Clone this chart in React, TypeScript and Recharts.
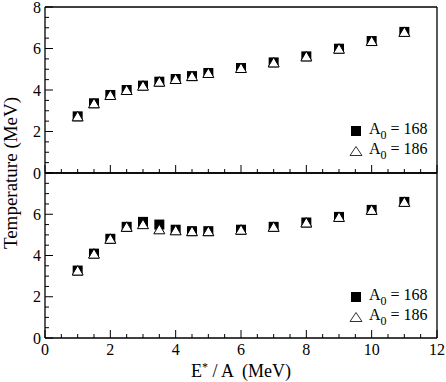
import { ScatterChart, Scatter, XAxis, YAxis } from "recharts";

const energy = [1, 1.5, 2, 2.5, 3, 3.5, 4, 4.5, 5, 6, 7, 8, 9, 10, 11];
const topA168 = [2.73, 3.36, 3.76, 4.0, 4.21, 4.4, 4.53, 4.67, 4.82, 5.06, 5.33, 5.62, 5.99, 6.36, 6.8];
const topA186 = [2.73, 3.36, 3.76, 4.0, 4.21, 4.4, 4.53, 4.67, 4.82, 5.06, 5.33, 5.62, 5.99, 6.36, 6.8];
const botA168 = [3.27, 4.09, 4.81, 5.39, 5.63, 5.5, 5.25, 5.18, 5.18, 5.25, 5.39, 5.6, 5.87, 6.21, 6.6];
const botA186 = [3.27, 4.09, 4.81, 5.39, 5.52, 5.27, 5.22, 5.18, 5.18, 5.25, 5.39, 5.6, 5.87, 6.21, 6.6];

const xTicks = [0, 0.5, 1, 1.5, 2, 2.5, 3, 3.5, 4, 4.5, 5, 5.5, 6, 6.5, 7, 7.5, 8, 8.5, 9, 9.5, 10, 10.5, 11, 11.5, 12];
const xLabels = [0, 2, 4, 6, 8, 10, 12];
const yTicks = [0, 0.5, 1, 1.5, 2, 2.5, 3, 3.5, 4, 4.5, 5, 5.5, 6, 6.5, 7, 7.5, 8];
const yLabelsTop = [0, 2, 4, 6, 8];
const yLabelsBottom = [0, 2, 4, 6];

const W = 446;
const H = 382;
const PLOT_LEFT = 45;
const PLOT_RIGHT = 9;
const TOP_Y = 7;
const MID_Y = 173;
const BOT_Y = 338;
const FONT = '"Liberation Serif", "Times New Roman", serif';

const toPoints = (xs: number[], ys: number[]) => xs.map((x, i) => ({ x, y: ys[i] }));

const Square = (props: any) => {
  const { cx, cy } = props;
  return <rect x={cx - 5} y={cy - 5} width={10} height={10} fill="#000" />;
};

const Triangle = (props: any) => {
  const { cx, cy } = props;
  return (
    <polygon
      points={`${cx},${cy - 5} ${cx + 5.5},${cy + 4.5} ${cx - 5.5},${cy + 4.5}`}
      fill="#fff"
      stroke="#000"
      strokeWidth={1}
    />
  );
};

type Side = "bottom" | "top" | "left" | "right";

function makeTick(side: Side, labels: number[]) {
  return (props: any) => {
    const { x, y, payload } = props;
    const v = payload.value as number;
    const major = Number.isInteger(v) && v % 2 === 0;
    const len = major ? 8 : 4;
    let x2 = x;
    let y2 = y;
    if (side === "bottom") y2 = y - len;
    if (side === "top") y2 = y + len;
    if (side === "left") x2 = x + len;
    if (side === "right") x2 = x - len;
    const show = labels.includes(v);
    return (
      <g>
        <line x1={x} y1={y} x2={x2} y2={y2} stroke="#000" strokeWidth={1} />
        {show && side === "bottom" && (
          <text x={x} y={y + 17} textAnchor="middle" fontFamily={FONT} fontSize={16} fill="#000">
            {v}
          </text>
        )}
        {show && side === "left" && (
          <text x={x - 4} y={y + 5.5} textAnchor="end" fontFamily={FONT} fontSize={16} fill="#000">
            {v}
          </text>
        )}
      </g>
    );
  };
}

const axisLine = { stroke: "#000", strokeWidth: 1.3 };

function Panel({
  a168,
  a186,
  top,
  bottom,
  yLabels,
  xLabelsShown,
}: {
  a168: number[];
  a186: number[];
  top: number;
  bottom: number;
  yLabels: number[];
  xLabelsShown: number[];
}) {
  // axes get a 1px thickness so Recharts draws them
  return (
    <div style={{ position: "absolute", left: 0, top: 0 }}>
      <ScatterChart
        width={W}
        height={H}
        margin={{ top: top - 1, bottom: H - bottom - 1, left: PLOT_LEFT - 1, right: PLOT_RIGHT - 1 }}
      >
        <XAxis
          xAxisId="b"
          dataKey="x"
          type="number"
          domain={[0, 12]}
          ticks={xTicks}
          interval={0}
          height={1}
          tickSize={0}
          tickMargin={0}
          tickLine={false}
          axisLine={axisLine}
          tick={makeTick("bottom", xLabelsShown)}
        />
        <XAxis
          xAxisId="t"
          orientation="top"
          dataKey="x"
          type="number"
          domain={[0, 12]}
          ticks={xTicks}
          interval={0}
          height={1}
          tickSize={0}
          tickMargin={0}
          tickLine={false}
          axisLine={axisLine}
          tick={makeTick("top", [])}
        />
        <YAxis
          yAxisId="l"
          dataKey="y"
          type="number"
          domain={[0, 8]}
          ticks={yTicks}
          interval={0}
          width={1}
          tickSize={0}
          tickMargin={0}
          tickLine={false}
          axisLine={axisLine}
          tick={makeTick("left", yLabels)}
        />
        <YAxis
          yAxisId="r"
          orientation="right"
          dataKey="y"
          type="number"
          domain={[0, 8]}
          ticks={yTicks}
          interval={0}
          width={1}
          tickSize={0}
          tickMargin={0}
          tickLine={false}
          axisLine={axisLine}
          tick={makeTick("right", [])}
        />
        <Scatter
          xAxisId="b"
          yAxisId="l"
          data={toPoints(energy, a168)}
          shape={Square}
          isAnimationActive={false}
        />
        <Scatter
          xAxisId="b"
          yAxisId="l"
          data={toPoints(energy, a186)}
          shape={Triangle}
          isAnimationActive={false}
        />
      </ScatterChart>
    </div>
  );
}

function LegendBox({ top }: { top: number }) {
  const row = (label: string, symbol: React.ReactNode, y: number) => (
    <div style={{ position: "absolute", left: 349, top: y - 10, height: 20, display: "flex", alignItems: "center" }}>
      <svg width={14} height={14} style={{ marginRight: 6 }}>
        {symbol}
      </svg>
      <span style={{ fontFamily: FONT, fontSize: 16, whiteSpace: "pre" }}>
        A<sub style={{ fontSize: 12, verticalAlign: -5 }}>0</sub> = {label}
      </span>
    </div>
  );
  return (
    <>
      {row("168", <rect x={2} y={2} width={10} height={10} fill="#000" />, top)}
      {row("186", <polygon points="7,2.5 13,11.5 1,11.5" fill="#fff" stroke="#333" strokeWidth={1} />, top + 20)}
    </>
  );
}

export default function App() {
  return (
    <div style={{ position: "absolute", left: 0, top: 0, width: W, height: H, background: "#fff", overflow: "hidden" }}>
      <Panel a168={topA168} a186={topA186} top={TOP_Y} bottom={MID_Y} yLabels={yLabelsTop} xLabelsShown={[]} />
      <Panel a168={botA168} a186={botA186} top={MID_Y} bottom={BOT_Y} yLabels={yLabelsBottom} xLabelsShown={xLabels} />
      <LegendBox top={131} />
      <LegendBox top={297} />
      <div
        style={{
          position: "absolute",
          left: 11,
          top: 173,
          transform: "translate(-50%, -50%) rotate(-90deg)",
          fontFamily: FONT,
          fontSize: 19,
          whiteSpace: "nowrap",
        }}
      >
        Temperature (MeV)
      </div>
      <div
        style={{
          position: "absolute",
          left: 241,
          top: 371,
          transform: "translate(-50%, -50%)",
          fontFamily: FONT,
          fontSize: 18,
          whiteSpace: "pre",
        }}
      >
        E<sup style={{ fontSize: 12, verticalAlign: 6 }}>*</sup> / A  (MeV)
      </div>
    </div>
  );
}
